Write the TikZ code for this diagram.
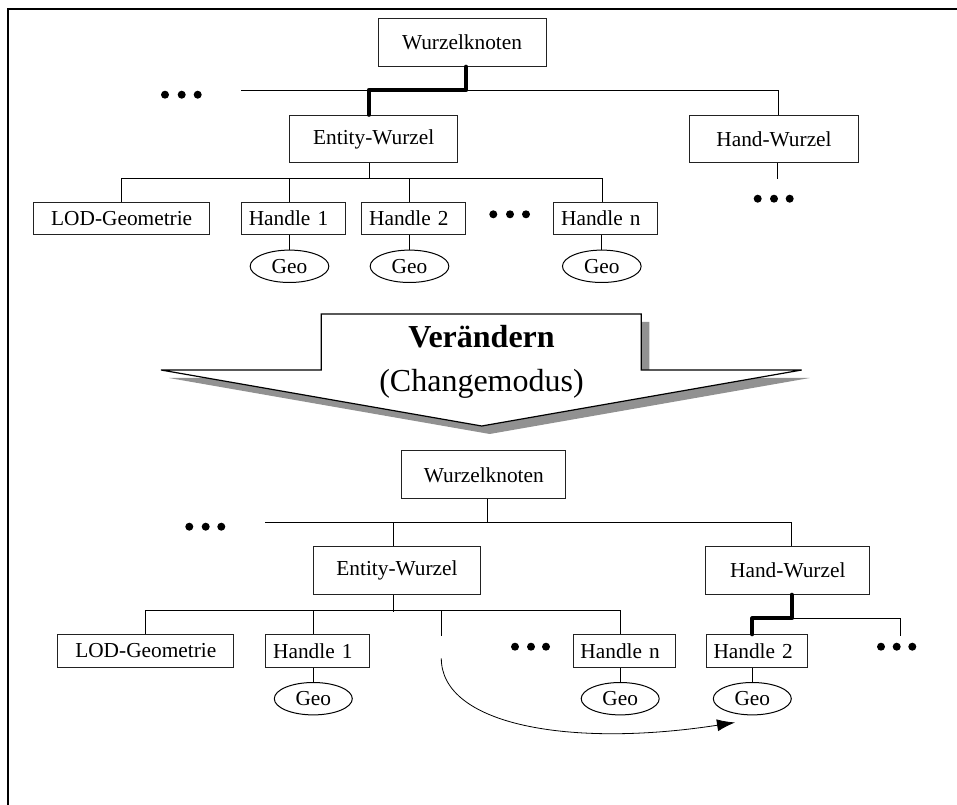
\documentclass[tikz,border=0pt]{standalone}
\usepackage{fontspec}
\setmainfont{Liberation Serif}
\usetikzlibrary{shapes.geometric,arrows.meta}
\definecolor{arrowshadow}{HTML}{919191}
\definecolor{boxline}{HTML}{222222}
\begin{document}
\begin{tikzpicture}[x=0.75pt,y=-0.75pt,
  font=\fontsize{16}{19}\selectfont,
  box/.style={draw=boxline, line width=0.75pt, inner sep=0pt, minimum height=#1},
  box/.default=35.7pt,
  bigbox/.style={box, minimum width=#1},
  leafbox/.style={draw=boxline, line width=0.75pt, inner sep=0pt, minimum height=24.3pt, minimum width=#1},
  handlebox/.style={draw=boxline, line width=0.75pt, inner ysep=0pt, inner xsep=5.6pt, minimum height=24.3pt, text width=#1, align=left},
  geo/.style={draw, ellipse, line width=0.75pt, inner sep=0pt, minimum width=59pt, minimum height=24.3pt},
  link/.style={line width=0.6pt},
  heavy/.style={line width=3.2pt, line cap=round, line join=round},
  dot/.style={fill=black}]
\useasboundingbox (0,0) rectangle (957,805);

% outer frame (left and top edges)
\draw[line width=1.6pt] (7.7,805) -- (7.7,9) -- (957,9);

% ---------------- upper tree ----------------
\node[bigbox=126pt] (wk1) at (462,42.5) {Wurzelknoten};
\node[bigbox=126pt] (ew1) at (373.7,139) {Entity-Wurzel};
\node[bigbox=126.2pt] (hw1) at (774,139) {Hand-Wurzel};
\node[leafbox=132pt] (lod1) at (121.7,218.5) {LOD-Geometrie};
\node[handlebox=67pt] (h11) at (293.5,218.5) {Handle 1};
\node[handlebox=67pt] (h21) at (413.8,218.5) {Handle 2};
\node[handlebox=67pt] (hn1) at (605.8,218.5) {Handle n};
\node[geo] (g11) at (289.5,266.3) {Geo};
\node[geo] (g21) at (409.5,266.3) {Geo};
\node[geo] (gn1) at (601.8,266.3) {Geo};

\coordinate (t1L) at (241,90);
\coordinate (t1R) at (778,90);
\coordinate (t1J) at (466,90);
\coordinate (t1E) at (369,90);
\coordinate (t2L) at (121,178);
\coordinate (t2R) at (602,178);
\coordinate (t3) at (777,179);

\draw[link] (t1L) -- (t1R) -- (t1R |- hw1.north);
\draw[heavy] (t1J |- wk1.south) -- (t1J) -- (t1E) -- (t1E |- ew1.north);
\draw[link] (t1E |- ew1.south) -- (t1E |- 0,179);
\draw[link] (t2L |- lod1.north) -- (t2L) -- (t2R) -- (t2R |- hn1.north);
\draw[link] (g11.north |- t2L) -- (g11.north |- h11.north);
\draw[link] (g21.north |- t2L) -- (g21.north |- h21.north);
\draw[link] (g11.north |- h11.south) -- (g11.north);
\draw[link] (g21.north |- h21.south) -- (g21.north);
\draw[link] (gn1.north |- hn1.south) -- (gn1.north);
\draw[link] (t3 |- hw1.south) -- (t3);

\foreach \x in {165,181.7,197.7} \fill[dot] (\x,94.7) circle (3pt);
\foreach \x in {493.3,510,526} \fill[dot] (\x,214.3) circle (3pt);
\foreach \x in {757.7,774,789.7} \fill[dot] (\x,198.7) circle (3pt);

% ---------------- transition arrow ----------------
\fill[arrowshadow] (329.3,322) -- (649.3,322) -- (649.3,378) -- (809.7,378)
  -- (489.7,434) -- (169,378) -- (329.3,378) -- cycle;
\filldraw[fill=white, draw=black, line width=0.9pt, line join=miter]
  (321.3,314) -- (641.3,314) -- (641.3,370) -- (801.7,370)
  -- (481.7,426) -- (161,370) -- (321.3,370) -- cycle;
\node[anchor=base, font=\fontsize{24}{28}\selectfont\bfseries] (verb) at (481.5,347.3) {Verändern};
\node[anchor=base, font=\fontsize{24}{28}\selectfont] (mode) at (481.5,391.5) {(Changemodus)};

% ---------------- lower tree ----------------
\node[bigbox=123.2pt] (wk2) at (483.8,474.8) {Wurzelknoten};
\node[bigbox=125pt] (ew2) at (397,570.5) {Entity-Wurzel};
\node[bigbox=122.8pt] (hw2) at (787.8,570.5) {Hand-Wurzel};
\node[leafbox=132.2pt] (lod2) at (145.8,650.9) {LOD-Geometrie};
\node[handlebox=66.8pt] (h12) at (317.7,650.9) {Handle 1};
\node[handlebox=65.3pt] (hn2) at (624,650.9) {Handle n};
\node[handlebox=64.8pt] (h22) at (756.7,650.9) {Handle 2};
\node[geo, minimum width=58.5pt] (g12) at (313.3,698.7) {Geo};
\node[geo, minimum width=58.5pt] (gn2) at (620.2,698.7) {Geo};
\node[geo, minimum width=58.5pt] (g22) at (752.3,698.7) {Geo};

\coordinate (b1L) at (265,522);
\coordinate (b1R) at (791.7,522);
\coordinate (b1J) at (487.7,522);
\coordinate (b1E) at (393.7,522);
\coordinate (b2L) at (145,610);
\coordinate (b2R) at (620.3,610);
\coordinate (b2S) at (441.3,610);
\coordinate (b2S') at (441.3,635.7);
\coordinate (hsplit) at (791.7,618.3);
\coordinate (hsplitR) at (900.3,618.3);
\coordinate (hsplitL) at (752.3,618.3);
\coordinate (moveS) at (441.3,658.3);

\draw[link] (b1J |- wk2.south) -- (b1J);
\draw[link] (b1L) -- (b1R) -- (b1R |- hw2.north);
\draw[link] (b1E) -- (b1E |- ew2.north);
\draw[link] (b1E |- ew2.south) -- (b1E |- 0,611.7);
\draw[link] (b2L |- lod2.north) -- (b2L) -- (b2R) -- (b2R |- hn2.north);
\draw[link] (g12.north |- b2L) -- (g12.north |- h12.north);
\draw[link] (b2S) -- (b2S');
\draw[link] (g12.north |- h12.south) -- (g12.north);
\draw[link] (gn2.north |- hn2.south) -- (gn2.north);
\draw[link] (g22.north |- h22.south) -- (g22.north);
\draw[link] (hsplit) -- (hsplitR) -- (hsplitR |- 0,635.7);
\draw[heavy] (hsplit |- hw2.south) -- (hsplit) -- (hsplitL) -- (hsplitL |- h22.north);

\foreach \x in {189.3,205.7,221.3} \fill[dot] (\x,526.7) circle (3pt);
\foreach \x in {515,531,546} \fill[dot] (\x,646.7) circle (3pt);
\foreach \x in {881,896.7,912.3} \fill[dot] (\x,646.7) circle (3pt);

% handle being moved to the hand subtree
\coordinate (moveE) at (735,722.5);
\draw[link, -{Latex[length=13.5pt,width=9pt]}]
  (moveS) .. controls (441.3,725) and (570,748) .. (moveE);
\end{tikzpicture}
\end{document}
